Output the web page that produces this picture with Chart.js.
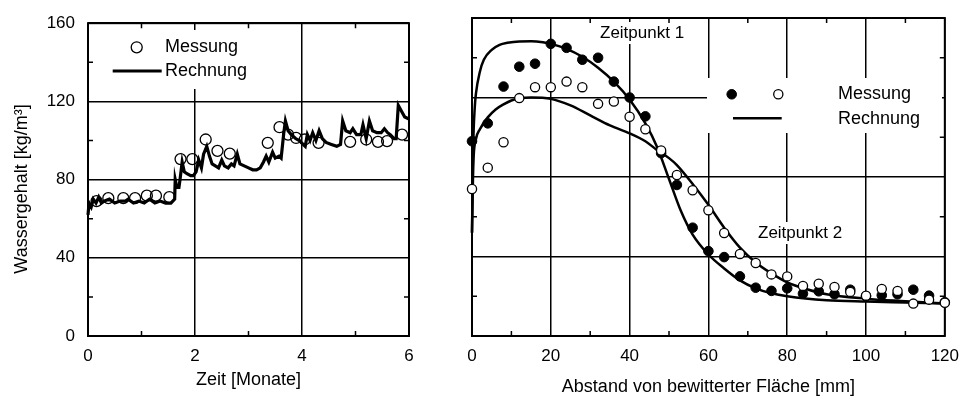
<!DOCTYPE html>
<html>
<head>
<meta charset="utf-8">
<script src="https://cdn.jsdelivr.net/npm/chart.js@4.4.1/dist/chart.umd.min.js"></script>
<style>
  html, body { margin: 0; padding: 0; background: #fff; }
  #wrap { position: relative; width: 969px; height: 398px; overflow: hidden; }
  canvas { position: absolute; top: 0; }
  #links { left: 0; }
  #rechts { left: 440px; }
</style>
</head>
<body>
<div id="wrap">
  <canvas id="links" width="440" height="398"></canvas>
  <canvas id="rechts" width="529" height="398"></canvas>
</div>
<script>
// ── Daten links: Wassergehalt über Zeit ──────────────────────────────────────
const zeitMessung   = [0.16, 0.38, 0.66, 0.88, 1.10, 1.27, 1.52, 1.73, 1.95, 2.20, 2.42, 2.65,
                       3.36, 3.58, 3.74, 3.89, 4.05, 4.31, 4.90, 5.20, 5.42, 5.59, 5.87];
const wasserMessung = [69, 70.5, 70.5, 70.5, 71.8, 71.8, 71, 90.5, 90.5, 100.5, 94.7, 93.3,
                       98.8, 106.8, 103, 101.3, 100.5, 98.8, 99.3, 100.5, 99.3, 99.7, 103];

const zeitRechnung   = [0, 0.02, 0.06, 0.10, 0.15, 0.20, 0.25, 0.30, 0.40, 0.50, 0.60, 0.70, 0.75,
                        0.85, 0.95, 1.05, 1.15, 1.25, 1.35, 1.45, 1.55, 1.62, 1.63, 1.66, 1.70, 1.72,
                        1.76, 1.80, 1.85, 1.92, 1.97, 2.02, 2.07, 2.12, 2.16, 2.22, 2.27, 2.32, 2.38,
                        2.44, 2.50, 2.55, 2.62, 2.68, 2.73, 2.79, 2.84, 2.92, 3.00, 3.08, 3.15, 3.22,
                        3.28, 3.33, 3.38, 3.45, 3.50, 3.57, 3.61, 3.66, 3.69, 3.74, 3.80, 3.88, 3.95,
                        4.02, 4.06, 4.10, 4.15, 4.20, 4.26, 4.32, 4.38, 4.45, 4.55, 4.65, 4.72, 4.76,
                        4.82, 4.90, 4.95, 5.02, 5.10, 5.14, 5.20, 5.26, 5.32, 5.40, 5.48, 5.54, 5.60,
                        5.65, 5.72, 5.76, 5.80, 5.86, 5.92, 6.00];
const wasserRechnung = [62, 68, 66, 70, 68, 71, 68, 69, 70, 68, 69, 69, 70,
                        68, 69, 68, 70, 68, 69, 68, 68, 70, 80, 76, 76, 80,
                        89, 84, 83, 82, 82, 84, 90, 86, 93, 97, 92, 88, 87,
                        86, 90, 87, 86, 88, 87, 93, 88, 87, 86, 85, 85, 86,
                        89, 92, 89, 94, 91, 92, 91, 104, 110, 105, 103, 101, 100,
                        98, 97, 103, 100, 104, 100, 105, 101, 99, 98, 97, 98, 110,
                        105, 104, 106, 103, 103, 108, 101, 110, 105, 104, 104, 106, 104,
                        103, 101, 101, 118, 115, 112, 111];

// ── Daten rechts: Profile über Abstand ───────────────────────────────────────
const abstandMessung = [0, 4, 8, 12, 16, 20, 24, 28, 32, 36, 40, 44, 48, 52, 56, 60,
                        64, 68, 72, 76, 80, 84, 88, 92, 96, 100, 104, 108, 112, 116, 120];
const zp1Messung = [98, 107, 125.5, 135.5, 137, 147, 145, 139, 140, 128, 120, 110.5, 92, 76, 54.5, 42.7,
                    39.7, 30, 24.3, 22.7, 24, 21.3, 22.5, 21, 23.3, 20, 20.5, 21, 23.3, 20.3, 17];
const zp2Messung = [74, 84.7, 97.5, 119.7, 125.2, 125.2, 128, 125.2, 116.8, 118, 110.3, 104, 93.3, 81, 73.3, 63.3,
                    51.8, 41.3, 36.7, 31, 30, 25.2, 26.3, 24.7, 22.2, 20.3, 23.7, 22.7, 16.3, 18.3, 16.7];

const abstandRechnung1 = [0, 0.3, 0.7, 1, 2, 3, 5, 7, 9, 12, 15, 18, 20, 24, 28, 32, 36, 40, 44, 47,
                          50, 53, 56, 60, 64, 68, 72, 76, 80, 90, 100, 110, 120];
const zp1Rechnung      = [52, 95, 115, 122, 133, 139, 144, 146.5, 147.5, 148.2, 148.3, 147.8, 147, 144.5,
                          140.5, 135, 128, 119, 107, 95, 79, 63, 51, 41, 34, 28, 24, 21.5, 20, 18, 17.3, 16.8, 16.3];
const abstandRechnung2 = [0, 0.3, 1, 2, 4, 6, 8, 10, 12, 15, 20, 25, 30, 35, 40, 44, 47, 50, 52, 56,
                          60, 64, 68, 72, 76, 80, 85, 90, 100, 110, 120];
const zp2Rechnung      = [52, 85, 99, 104, 110, 114, 116.5, 118.5, 119.5, 120, 119.3, 116, 111, 106, 102,
                          98, 93.5, 89.5, 86, 76.5, 66, 54.5, 44.5, 37, 31.5, 27, 23.5, 21, 18.8, 17.5, 16.3];

// ── Achsenteilung ────────────────────────────────────────────────────────────
const yTicks        = [0, 40, 80, 120, 160];
const yMinor        = [20, 60, 100, 140];
const xTicksLinks   = [0, 2, 4, 6];
const xMinorLinks   = [1, 3, 5];
const xTicksRechts  = [0, 20, 40, 60, 80, 100, 120];
const xMinorRechts  = [10, 30, 50, 70, 90, 110];

const FONT = 'Arial, "Liberation Sans", sans-serif';
Chart.defaults.font.family = FONT;
Chart.defaults.color = '#000';

function pts(xs, ys) { return xs.map((x, i) => ({ x: x, y: ys[i] })); }
function fixTicks(list) { return s => { s.ticks = list.map(v => ({ value: v })); }; }

// frame, minor ticks, white boxes, legend and labels (config kept in a closure)
function deko(o) {
  return {
    id: 'deko',
    beforeDatasetsDraw(chart) {
      const { ctx, chartArea: a, scales } = chart;
      ctx.save();
      ctx.fillStyle = '#fff';
      o.boxes.forEach(b => ctx.fillRect(b[0], b[1], b[2], b[3]));
      ctx.strokeStyle = '#000';
      ctx.lineWidth = 1.5;
      const tl = 5;
      ctx.beginPath();
      o.minorX.forEach(v => {
        const px = scales.x.getPixelForValue(v);
        ctx.moveTo(px, a.bottom); ctx.lineTo(px, a.bottom - tl);
        ctx.moveTo(px, a.top); ctx.lineTo(px, a.top + tl);
      });
      o.minorY.forEach(v => {
        const py = scales.y.getPixelForValue(v);
        ctx.moveTo(a.left, py); ctx.lineTo(a.left + tl, py);
        ctx.moveTo(a.right, py); ctx.lineTo(a.right - tl, py);
      });
      ctx.stroke();
      ctx.lineWidth = 2;
      ctx.strokeRect(a.left, a.top, a.right - a.left, a.bottom - a.top);
      ctx.restore();
    },
    afterDatasetsDraw(chart) {
      const ctx = chart.ctx;
      ctx.save();
      ctx.strokeStyle = '#000';
      o.texts.forEach(t => {
        ctx.save();
        ctx.fillStyle = '#000';
        ctx.font = (t.size || 18) + 'px ' + FONT;
        ctx.textAlign = t.align || 'left';
        ctx.textBaseline = 'middle';
        ctx.translate(t.x, t.y);
        if (t.rot) ctx.rotate(t.rot);
        ctx.fillText(t.text, 0, 0);
        ctx.restore();
      });
      o.circles.forEach(c => {
        ctx.beginPath();
        ctx.arc(c.x, c.y, c.r, 0, Math.PI * 2);
        if (c.solid) { ctx.fillStyle = c.solid; ctx.fill(); }
        ctx.lineWidth = c.w;
        ctx.stroke();
      });
      o.lines.forEach(l => {
        ctx.beginPath();
        ctx.moveTo(l.x1, l.y); ctx.lineTo(l.x2, l.y);
        ctx.lineWidth = l.w;
        ctx.stroke();
      });
      ctx.restore();
    }
  };
}

const gridOpts = { color: '#000', lineWidth: 1.5, drawTicks: false };

// ── linkes Diagramm ──────────────────────────────────────────────────────────
new Chart(document.getElementById('links'), {
  type: 'scatter',
  data: {
    datasets: [
      { data: pts(zeitRechnung, wasserRechnung), showLine: true, borderColor: '#000', borderWidth: 3.2,
        pointRadius: 0, tension: 0, clip: false, order: 0 },
      { data: pts(zeitMessung, wasserMessung), showLine: false, pointRadius: 5.5, pointBorderWidth: 1.3,
        pointBorderColor: '#000', pointBackgroundColor: 'rgba(0,0,0,0)', clip: false, order: 1 }
    ]
  },
  options: {
    responsive: false, animation: false, devicePixelRatio: 1,
    layout: { padding: { top: 18, right: 31, left: 0, bottom: 0 } },
    plugins: { legend: { display: false }, tooltip: { enabled: false } },
    scales: {
      x: {
        type: 'linear', min: 0, max: 6, afterBuildTicks: fixTicks(xTicksLinks),
        ticks: { font: { size: 17 }, padding: 10, maxRotation: 0 },
        grid: gridOpts, border: { display: false },
        title: { display: true, text: 'Zeit [Monate]', font: { size: 18 }, padding: { top: 0, bottom: 7 } },
        afterFit: s => { s.height = 62; }
      },
      y: {
        type: 'linear', min: 0, max: 160, afterBuildTicks: fixTicks(yTicks),
        ticks: { font: { size: 17 }, padding: 13 },
        grid: gridOpts, border: { display: false },
        afterFit: s => { s.width = 88; }
      }
    }
  },
  plugins: [deko({
    boxes: [[100, 30, 150, 59]],
    minorX: xMinorLinks, minorY: yMinor,
    texts: [
      { text: 'Messung', x: 165, y: 47 },
      { text: 'Rechnung', x: 165, y: 71 },
      { text: 'Wassergehalt [kg/m³]', x: 22, y: 189, align: 'center', rot: -Math.PI / 2 }
    ],
    circles: [{ x: 136.7, y: 47.3, r: 5.5, w: 1.3 }],
    lines: [{ x1: 112.7, x2: 161.7, y: 71, w: 3.2 }]
  })]
});

// ── rechtes Diagramm ─────────────────────────────────────────────────────────
new Chart(document.getElementById('rechts'), {
  type: 'scatter',
  data: {
    datasets: [
      { data: pts(abstandMessung, zp2Messung), showLine: false, pointRadius: 4.6, pointBorderWidth: 1.3,
        pointBorderColor: '#000', pointBackgroundColor: '#fff', clip: false, order: 0 },
      { data: pts(abstandMessung, zp1Messung), showLine: false, pointRadius: 4.8, pointBorderWidth: 1,
        pointBorderColor: '#000', pointBackgroundColor: '#000', clip: false, order: 1 },
      { data: pts(abstandRechnung1, zp1Rechnung), showLine: true, borderColor: '#000', borderWidth: 2.5,
        pointRadius: 0, cubicInterpolationMode: 'monotone', clip: false, order: 2 },
      { data: pts(abstandRechnung2, zp2Rechnung), showLine: true, borderColor: '#000', borderWidth: 2.5,
        pointRadius: 0, cubicInterpolationMode: 'monotone', clip: false, order: 3 }
    ]
  },
  options: {
    responsive: false, animation: false, devicePixelRatio: 1,
    layout: { padding: { top: 18, right: 17, left: 0, bottom: 0 } },
    plugins: { legend: { display: false }, tooltip: { enabled: false } },
    scales: {
      x: {
        type: 'linear', min: 0, max: 120, afterBuildTicks: fixTicks(xTicksRechts),
        ticks: { font: { size: 17 }, padding: 10, maxRotation: 0 },
        grid: gridOpts, border: { display: false },
        title: { display: true, text: 'Abstand von bewitterter Fläche [mm]', font: { size: 18 },
                 padding: { top: 0, bottom: 0 } },
        afterFit: s => { s.height = 62; }
      },
      y: {
        type: 'linear', min: 0, max: 160, afterBuildTicks: fixTicks(yTicks),
        ticks: { display: false },
        grid: gridOpts, border: { display: false },
        afterFit: s => { s.width = 32; }
      }
    }
  },
  plugins: [deko({
    boxes: [[267, 78, 235, 55], [157, 22, 92, 22], [315, 222, 93, 22]],
    minorX: xMinorRechts, minorY: yMinor,
    texts: [
      { text: 'Zeitpunkt 1', x: 160, y: 33, size: 17 },
      { text: 'Zeitpunkt 2', x: 318, y: 233, size: 17 },
      { text: 'Messung', x: 398, y: 94 },
      { text: 'Rechnung', x: 398, y: 119 }
    ],
    circles: [
      { x: 291.7, y: 94.3, r: 4.8, w: 1, solid: '#000' },
      { x: 338.3, y: 94.3, r: 4.6, w: 1.3, solid: '#fff' }
    ],
    lines: [{ x1: 293, x2: 341.7, y: 118.3, w: 2.5 }]
  })]
});
</script>
</body>
</html>
